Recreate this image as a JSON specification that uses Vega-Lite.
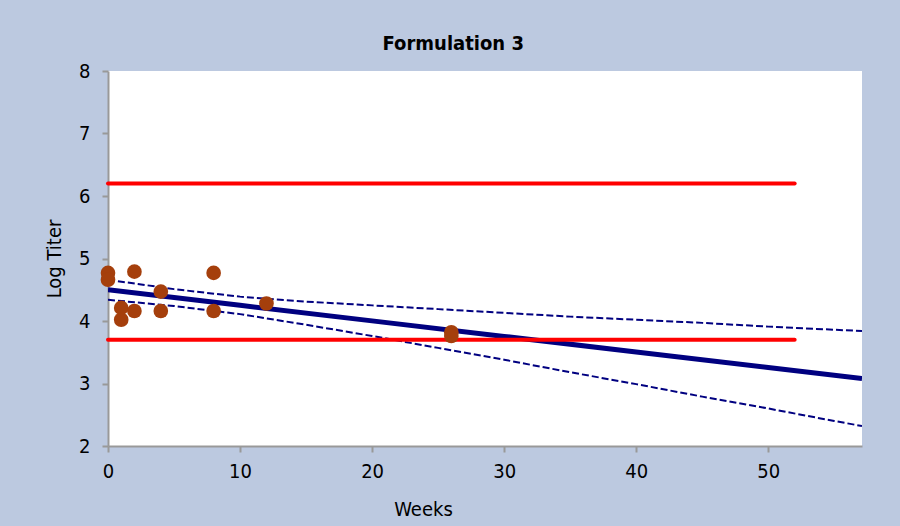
{
  "$schema": "https://vega.github.io/schema/vega-lite/v6.json",
  "width": 754,
  "height": 375,
  "autosize": {"type": "none"},
  "padding": {"left": 108, "top": 71, "right": 38, "bottom": 80},
  "background": "#BCC9E0",
  "config": {
    "view": {"fill": "white", "stroke": null},
    "font": "DejaVu Sans Condensed",
    "axis": {
      "grid": false,
      "labelFlush": false,
      "domainColor": "#999999",
      "domainWidth": 2,
      "tickColor": "#999999",
      "tickWidth": 2,
      "tickSize": 6,
      "labelFont": "DejaVu Sans Condensed",
      "labelFontSize": 20,
      "labelColor": "#000000",
      "titleFont": "DejaVu Sans Condensed",
      "titleFontSize": 20,
      "titleFontWeight": "normal",
      "titleColor": "#000000"
    }
  },
  "title": {
    "text": "Formulation 3",
    "font": "DejaVu Sans Condensed",
    "fontSize": 20,
    "fontWeight": "bold",
    "color": "#000000",
    "anchor": "middle",
    "frame": "bounds",
    "offset": 7
  },
  "datasets": {
    "points": [
      {"week": 0, "titer": 4.77},
      {"week": 0, "titer": 4.66},
      {"week": 1, "titer": 4.21},
      {"week": 1, "titer": 4.02},
      {"week": 2, "titer": 4.79},
      {"week": 2, "titer": 4.16},
      {"week": 4, "titer": 4.47},
      {"week": 4, "titer": 4.16},
      {"week": 8, "titer": 4.77},
      {"week": 8, "titer": 4.16},
      {"week": 12, "titer": 4.28},
      {"week": 26, "titer": 3.82},
      {"week": 26, "titer": 3.76}
    ],
    "fit": [
      {"week": 0, "value": 4.5},
      {"week": 10, "value": 4.251},
      {"week": 20, "value": 4.002},
      {"week": 30, "value": 3.753},
      {"week": 40, "value": 3.504},
      {"week": 50, "value": 3.255},
      {"week": 57.1, "value": 3.078}
    ],
    "bands": [
      {"week": 0, "value": 4.66, "bound": "upper"},
      {"week": 5, "value": 4.51, "bound": "upper"},
      {"week": 10, "value": 4.39, "bound": "upper"},
      {"week": 15, "value": 4.31, "bound": "upper"},
      {"week": 20, "value": 4.25, "bound": "upper"},
      {"week": 25, "value": 4.19, "bound": "upper"},
      {"week": 30, "value": 4.13, "bound": "upper"},
      {"week": 35, "value": 4.07, "bound": "upper"},
      {"week": 40, "value": 4.02, "bound": "upper"},
      {"week": 45, "value": 3.97, "bound": "upper"},
      {"week": 50, "value": 3.91, "bound": "upper"},
      {"week": 55, "value": 3.86, "bound": "upper"},
      {"week": 57.1, "value": 3.84, "bound": "upper"},
      {"week": 0, "value": 4.34, "bound": "lower"},
      {"week": 5, "value": 4.24, "bound": "lower"},
      {"week": 10, "value": 4.11, "bound": "lower"},
      {"week": 15, "value": 3.94, "bound": "lower"},
      {"week": 20, "value": 3.76, "bound": "lower"},
      {"week": 25, "value": 3.57, "bound": "lower"},
      {"week": 30, "value": 3.38, "bound": "lower"},
      {"week": 35, "value": 3.18, "bound": "lower"},
      {"week": 40, "value": 2.99, "bound": "lower"},
      {"week": 45, "value": 2.79, "bound": "lower"},
      {"week": 50, "value": 2.6, "bound": "lower"},
      {"week": 55, "value": 2.4, "bound": "lower"},
      {"week": 57.1, "value": 2.32, "bound": "lower"}
    ],
    "limits": [
      {"week": 0, "value": 6.2, "limit": "upper"},
      {"week": 52, "value": 6.2, "limit": "upper"},
      {"week": 0, "value": 3.7, "limit": "lower"},
      {"week": 52, "value": 3.7, "limit": "lower"}
    ]
  },
  "encoding": {
    "x": {
      "field": "week",
      "type": "quantitative",
      "scale": {"domain": [0, 57.1], "nice": false, "zero": false},
      "axis": {"title": "Weeks", "values": [0, 10, 20, 30, 40, 50], "labelPadding": 9, "titlePadding": 18, "titleX": 315}
    },
    "y": {
      "type": "quantitative",
      "scale": {"domain": [2, 8], "nice": false, "zero": false},
      "axis": {"title": "Log Titer", "values": [2, 3, 4, 5, 6, 7, 8], "labelPadding": 12, "titlePadding": 14}
    }
  },
  "layer": [
    {
      "data": {"name": "bands"},
      "mark": {"type": "line", "color": "#000080", "strokeWidth": 2, "strokeDash": [7, 3], "clip": true},
      "encoding": {"y": {"field": "value", "type": "quantitative"}, "detail": {"field": "bound"}}
    },
    {
      "data": {"name": "fit"},
      "mark": {"type": "line", "color": "#000080", "strokeWidth": 5, "clip": true},
      "encoding": {"y": {"field": "value", "type": "quantitative"}}
    },
    {
      "data": {"name": "limits"},
      "mark": {"type": "line", "color": "#FF0000", "strokeWidth": 4, "strokeCap": "round"},
      "encoding": {"y": {"field": "value", "type": "quantitative"}, "detail": {"field": "limit"}}
    },
    {
      "data": {"name": "points"},
      "mark": {"type": "circle", "color": "#A53F0C", "opacity": 1, "size": 215},
      "encoding": {"y": {"field": "titer", "type": "quantitative"}}
    }
  ]
}
